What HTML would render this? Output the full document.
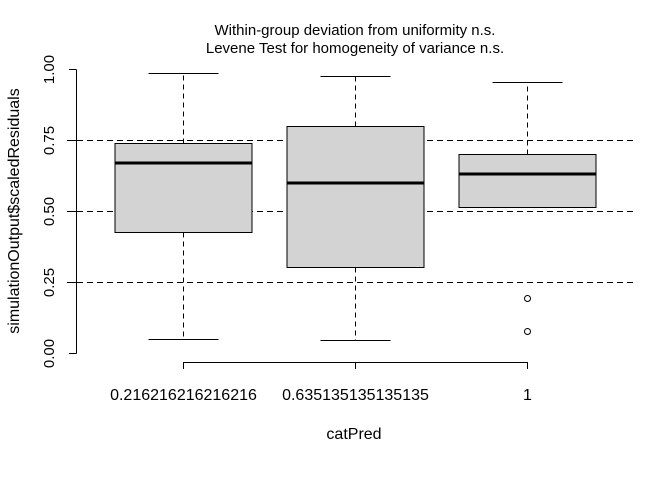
<!DOCTYPE html>
<html><head><meta charset="utf-8"><style>
html,body{margin:0;padding:0;background:#fff;}
svg{display:block;font-family:"Liberation Sans",Arial,sans-serif;}
</style></head><body>
<svg id="chart" width="672" height="480" viewBox="0 0 672 480" xmlns="http://www.w3.org/2000/svg" shape-rendering="crispEdges">
<text x="355" y="35" font-size="15" text-anchor="middle">Within-group deviation from uniformity n.s.</text>
<text x="355" y="53" font-size="15" text-anchor="middle">Levene Test for homogeneity of variance n.s.</text>
<text transform="translate(19,211) rotate(-90)" font-size="16" text-anchor="middle">simulationOutput$scaledResiduals</text>
<text x="354" y="439" font-size="16" text-anchor="middle">catPred</text>
<g id="grid"></g><g id="boxes"></g><g id="axes"></g>
</svg>
<script>
const categories = ["0.216216216216216","0.635135135135135","1"];
const whiskerLow = [0.05, 0.045, 0.514];
const q1 = [0.425, 0.302, 0.514];
const median = [0.67, 0.60, 0.63];
const q3 = [0.74, 0.80, 0.70];
const whiskerHigh = [0.985, 0.975, 0.954];
const outliers = [[], [], [0.194, 0.077]];
const yTicks = [0, 0.25, 0.5, 0.75, 1.0];
const yTickLabels = ["0.00","0.25","0.50","0.75","1.00"];
const refLines = [0.25, 0.5, 0.75];

const NS="http://www.w3.org/2000/svg";
function y(v){return Math.round(353 - v*284)+0.5;}
function x(i){return 183 + i*172 + 0.5;}
function mk(tag, attrs, parent){const e=document.createElementNS(NS,tag);for(const k in attrs)e.setAttribute(k,attrs[k]);parent.appendChild(e);return e;}
const grid=document.getElementById('grid'), boxes=document.getElementById('boxes'), axes=document.getElementById('axes');
refLines.forEach(v=>{
  const l=mk('line',{x1:67,x2:633,y1:y(v),y2:y(v),stroke:'#000','stroke-dasharray':'6,4','stroke-width':1},grid);
  
  
});
categories.forEach((c,i)=>{
  const g=mk('g',{},boxes);
  
  
  const cx=x(i), hw=68.5;
  if(whiskerLow[i]<q1[i]){
    mk('line',{x1:cx,x2:cx,y1:y(q1[i]),y2:y(whiskerLow[i]),stroke:'#000','stroke-dasharray':'5,4'},g);
  }
  mk('line',{x1:cx-35,x2:cx+35,y1:y(whiskerLow[i]),y2:y(whiskerLow[i]),stroke:'#000'},g);
  mk('line',{x1:cx,x2:cx,y1:y(q3[i]),y2:y(whiskerHigh[i]),stroke:'#000','stroke-dasharray':'5,4'},g);
  mk('line',{x1:cx-35,x2:cx+35,y1:y(whiskerHigh[i]),y2:y(whiskerHigh[i]),stroke:'#000'},g);
  mk('rect',{x:cx-hw,y:y(q3[i]),width:hw*2,height:y(q1[i])-y(q3[i]),fill:'#d3d3d3',stroke:'#000'},g);
  mk('line',{x1:cx-hw,x2:cx+hw,y1:y(median[i])-0.5,y2:y(median[i])-0.5,stroke:'#000','stroke-width':3},g);
  outliers[i].forEach(o=>{
    const p=mk('circle',{cx:cx,cy:y(o),r:3,fill:'none',stroke:'#000','shape-rendering':'auto'},g);
    
    
  });
  mk('line',{x1:cx,x2:cx,y1:362,y2:369,stroke:'#000'},axes);
  const t=mk('text',{x:cx,y:400,'font-size':16,'text-anchor':'middle'},axes);
  t.textContent=c;
  
  
});
mk('line',{x1:x(0),x2:x(categories.length-1),y1:362.5,y2:362.5,stroke:'#000'},axes);
mk('line',{x1:76.5,x2:76.5,y1:y(1),y2:y(0),stroke:'#000'},axes);
yTicks.forEach((v,i)=>{
  mk('line',{x1:69,x2:76.5,y1:y(v),y2:y(v),stroke:'#000'},axes);
  const t=mk('text',{transform:`translate(54,${y(v)}) rotate(-90)`,'font-size':15,'text-anchor':'middle'},axes);
  t.textContent=yTickLabels[i];
  
  
});
</script>
</body></html>
